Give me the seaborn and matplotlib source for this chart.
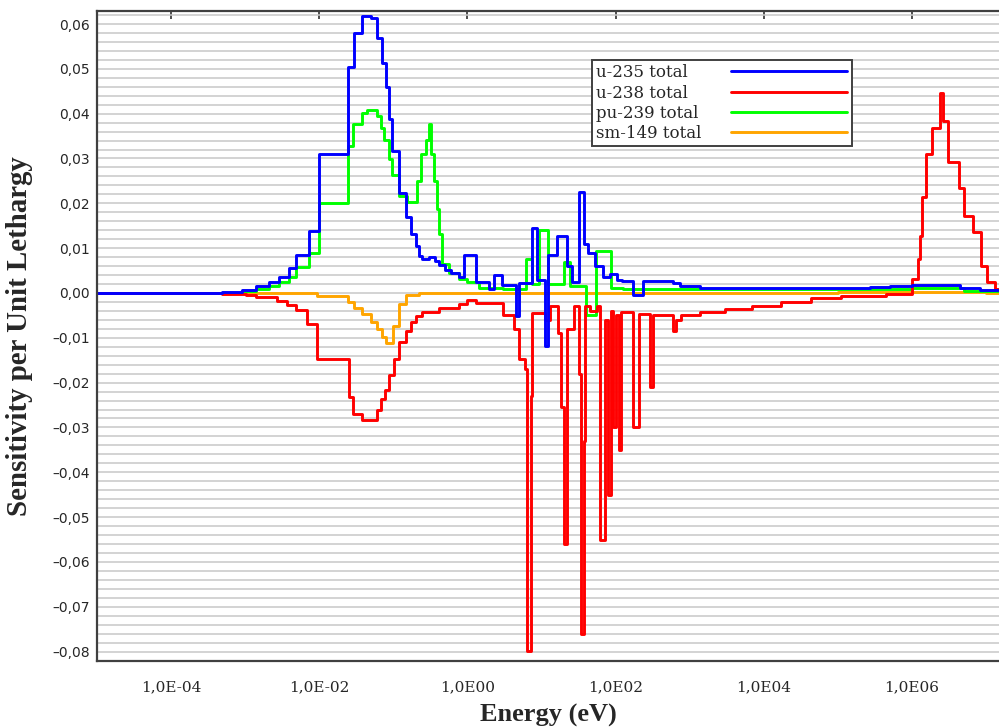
import matplotlib
matplotlib.use('Agg')
import matplotlib.pyplot as plt
from matplotlib.lines import Line2D
from matplotlib.ticker import FixedLocator, MultipleLocator, FuncFormatter, NullLocator
import seaborn as sns
import pandas as pd
import numpy as np

sns.set_style('white')

# energy group edges (eV) and sensitivity per unit lethargy for each nuclide
u235_edges = [1e-5, 4.9e-4, 9.1e-4, 1.41e-3, 2.11e-3, 2.88e-3, 3.93e-3, 4.89e-3, 7.3e-3, 1.0e-2,
              2.47e-2, 2.97e-2, 3.81e-2, 5.05e-2, 6.08e-2, 7.1e-2, 8.04e-2, 8.83e-2, 9.7e-2, 0.12,
              0.15, 0.175, 0.205, 0.224, 0.246, 0.30, 0.36, 0.42, 0.505, 0.61,
              0.78, 0.91, 1.32, 1.98, 2.32, 2.97, 4.6, 5.05, 7.55, 8.8,
              11.0, 12.1, 16.0, 21.8, 26.2, 32.6, 37.0, 41.9, 52.0, 66.7,
              83.0, 103.0, 124.0, 170.0, 232.0, 590.0, 730.0, 1360.0, 2.7e5, 5e5,
              1e6, 4.4e6, 8.2e6, 2e7]
u235_vals = [0.0, 0.0003, 0.0007, 0.0015, 0.0025, 0.0036, 0.0055, 0.0084, 0.0138,
             0.031, 0.0503, 0.058, 0.0618, 0.0613, 0.0569, 0.0513, 0.046, 0.0387, 0.0316,
             0.0224, 0.0169, 0.0131, 0.0104, 0.0082, 0.0075, 0.0080, 0.0072, 0.0062, 0.0052,
             0.0044, 0.0035, 0.0085, 0.0025, 0.0008, 0.004, 0.0018, -0.0051, 0.0022, 0.0144,
             0.003, -0.0118, 0.0084, 0.0127, 0.006, 0.0024, 0.0225, 0.011, 0.009, 0.006,
             0.0035, 0.0042, 0.003, 0.0026, -0.0005, 0.0027, 0.0022, 0.0016, 0.0011, 0.0013,
             0.0016, 0.0017, 0.0012, 0.0007]

u238_edges = [1e-5, 4.9e-4, 1.03e-3, 1.41e-3, 2.7e-3, 3.7e-3, 4.89e-3, 6.9e-3, 9.4e-3, 2.54e-2,
              2.88e-2, 3.81e-2, 6.08e-2, 6.89e-2, 7.8e-2, 8.83e-2, 0.103, 0.12, 0.15, 0.175,
              0.205, 0.246, 0.42, 0.78, 1.0, 1.32, 3.0, 4.3, 5.05, 5.9,
              6.3, 7.2, 7.55, 11.0, 13.0, 16.5, 18.5, 19.9, 22.0, 27.9,
              32.6, 34.5, 37.0, 38.5, 45.0, 56.0, 62.0, 71.0, 78.0, 86.0,
              93.0, 100.0, 111.0, 120.0, 170.0, 205.0, 290.0, 320.0, 590.0, 660.0,
              760.0, 1400.0, 3000.0, 7000.0, 1.7e4, 4.4e4, 1.1e5, 4.5e5, 1e6, 1.2e6,
              1.3e6, 1.37e6, 1.55e6, 1.86e6, 2.39e6, 2.62e6, 3.06e6, 4.3e6, 5.05e6, 6.7e6,
              8.6e6, 1.03e7, 1.32e7, 2e7]
u238_vals = [0.0, -0.0002, -0.0004, -0.001, -0.0017, -0.0027, -0.0039, -0.0069, -0.0147,
             -0.0231, -0.0269, -0.0284, -0.0262, -0.0236, -0.0217, -0.0182, -0.0147, -0.0109, -0.0084,
             -0.0065, -0.0051, -0.0042, -0.0033, -0.0025, -0.0015, -0.0022, -0.005, -0.008, -0.0147,
             -0.017, -0.0798, -0.023, -0.0045, -0.006, -0.0028, -0.009, -0.0254, -0.056, -0.008,
             -0.003, -0.018, -0.076, -0.033, -0.003, -0.004, -0.003, -0.055, -0.006, -0.045,
             -0.004, -0.030, -0.005, -0.035, -0.0043, -0.030, -0.0047, -0.021, -0.005, -0.0084,
             -0.006, -0.005, -0.0043, -0.0036, -0.0028, -0.002, -0.0011, -0.0006, -0.0003, 0.0031,
             0.0076, 0.0127, 0.0213, 0.0309, 0.0369, 0.0447, 0.0384, 0.0293, 0.0235, 0.0171,
             0.0136, 0.006, 0.0024, 0.0009]

pu239_edges = [1e-5, 9.1e-4, 1.41e-3, 2.11e-3, 2.88e-3, 3.93e-3, 4.89e-3, 7.3e-3, 1.0e-2, 2.47e-2,
               2.88e-2, 3.81e-2, 4.45e-2, 6.08e-2, 6.89e-2, 7.55e-2, 8.83e-2, 9.7e-2, 0.12, 0.155,
               0.211, 0.239, 0.279, 0.306, 0.326, 0.358, 0.394, 0.419, 0.46, 0.57,
               0.78, 1.0, 1.45, 3.0, 6.2, 7.55, 9.4, 12.1, 19.9, 23.9,
               40.0, 55.0, 86.0, 125.0, 1e6, 5e6, 2e7]
pu239_vals = [0.0, 0.0004, 0.0009, 0.0016, 0.0024, 0.0035, 0.0058, 0.009, 0.020,
              0.0327, 0.0378, 0.0402, 0.0409, 0.0394, 0.0369, 0.0342, 0.0298, 0.0264, 0.0216,
              0.0204, 0.0249, 0.031, 0.0342, 0.0378, 0.031, 0.0249, 0.0187, 0.0131, 0.0065,
              0.0045, 0.0032, 0.0025, 0.0012, 0.0008, 0.0076, 0.002, 0.014, 0.002, 0.0069,
              0.0015, -0.005, 0.0093, 0.001, 0.0008, 0.001, 0.0005]

sm149_edges = [1e-5, 9.4e-3, 2.47e-2, 2.97e-2, 3.81e-2, 5.05e-2, 6.08e-2, 7.1e-2, 8.04e-2, 0.1,
               0.12, 0.15, 0.224, 1e5, 1e7, 2e7]
sm149_vals = [0.0, -0.0007, -0.0021, -0.0034, -0.0047, -0.0064, -0.008, -0.0098, -0.0111,
              -0.0074, -0.0024, -0.0005, 0.0, 0.0002, 0.0]

series_names = ['u-235 total', 'u-238 total', 'pu-239 total', 'sm-149 total']
series_colors = ['#0000ff', '#ff0000', '#00ff00', '#ffa500']
draw_order = ['sm-149 total', 'pu-239 total', 'u-238 total', 'u-235 total']

xtick_values = [1e-4, 1e-2, 1e0, 1e2, 1e4, 1e6]
xtick_labels = ['1,0E-04', '1,0E-02', '1,0E00', '1,0E02', '1,0E04', '1,0E06']

frames = []
for name, edges, vals in [('u-235 total', u235_edges, u235_vals),
                          ('u-238 total', u238_edges, u238_vals),
                          ('pu-239 total', pu239_edges, pu239_vals),
                          ('sm-149 total', sm149_edges, sm149_vals)]:
    frames.append(pd.DataFrame({'energy': edges, 'sens': list(vals) + [vals[-1]], 'series': name}))
df = pd.concat(frames, ignore_index=True)

fig = plt.figure(figsize=(9.99, 7.28), dpi=100)
ax = fig.add_axes([97/999, 1-661/728, 1-97/999, 650/728])
ax.set_xscale('log')

palette = dict(zip(series_names, series_colors))
sns.lineplot(data=df, x='energy', y='sens', hue='series', hue_order=draw_order, palette=palette,
             estimator=None, sort=False, drawstyle='steps-post', linewidth=2.1, legend=False, ax=ax)

ax.set_xlim(1e-5, 1.5e7)
ax.set_ylim(-0.0821, 0.0629)

ax.yaxis.set_major_locator(MultipleLocator(0.01))
ax.yaxis.set_minor_locator(MultipleLocator(0.002))
ax.grid(False)
ax.grid(True, axis='y', which='both', color='#c8c8c8', linewidth=1.1)
ax.set_axisbelow(True)

def yfmt(v, pos):
    if abs(v) < 1e-9:
        return '0,00'
    s = f'{abs(v):.2f}'.replace('.', ',')
    return ('\u2013' + s) if v < 0 else s
ax.yaxis.set_major_formatter(FuncFormatter(yfmt))

ax.xaxis.set_major_locator(FixedLocator(xtick_values))
ax.xaxis.set_minor_locator(NullLocator())
ax.set_xticklabels(xtick_labels)

ax.tick_params(axis='x', which='major', direction='in', length=6, width=1.3, color='#404040',
               top=True, pad=14, labelsize=11)
ax.tick_params(axis='y', which='major', direction='in', length=3, width=1.3, color='#404040',
               pad=5, labelsize=10)
ax.tick_params(axis='y', which='minor', length=0)
for lab in ax.get_xticklabels():
    lab.set_fontfamily('DejaVu Serif')
for lab in ax.get_yticklabels():
    lab.set_fontfamily('DejaVu Sans')

for side in ['left', 'bottom', 'top']:
    ax.spines[side].set_color('#404040')
    ax.spines[side].set_linewidth(1.6)
ax.spines['right'].set_visible(False)

ax.set_xlabel('Energy (eV)', fontfamily='Liberation Serif', fontweight='bold', fontsize=19)
ax.set_ylabel('Sensitivity per Unit Lethargy', fontfamily='Liberation Serif', fontweight='bold', fontsize=20.8)
ax.xaxis.set_label_coords(0.5, -0.066)
ax.yaxis.set_label_coords(-0.071, 0.5)

handles = [Line2D([], [], color=c, linewidth=2.1) for c in series_colors]
leg = ax.legend(handles, series_names, loc='upper left', bbox_to_anchor=(592/999, 1-60/728),
                bbox_transform=fig.transFigure, markerfirst=False, handlelength=7.0,
                handletextpad=1.75, labelspacing=0.2, borderpad=0.25, borderaxespad=0,
                frameon=True, fancybox=False, edgecolor='#404040', framealpha=1,
                prop={'family': 'DejaVu Serif', 'size': 12})
leg.get_frame().set_linewidth(1.4)

# left-align the label texts (text comes before the line here)
renderer = fig.canvas.get_renderer()
widths = [t.get_window_extent(renderer).width for t in leg.texts]
maxw = max(widths)
rows = [row for col in leg._legend_handle_box.get_children() for row in col.get_children()]
for row, w in zip(rows, widths):
    row.sep = row.sep + (maxw - w) * 72.0 / fig.dpi

fig.savefig('out.png', dpi=100)
